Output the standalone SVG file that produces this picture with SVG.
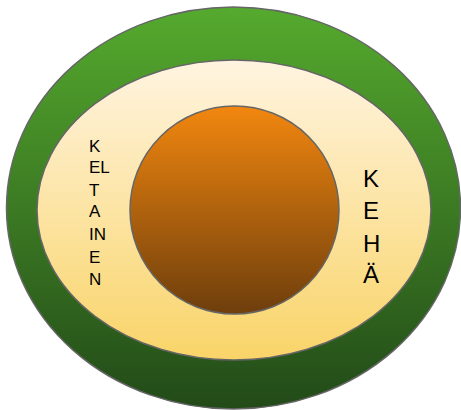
<svg xmlns="http://www.w3.org/2000/svg" width="461" height="410" viewBox="0 0 461 410">
<defs>
<linearGradient id="gOuter" x1="0" y1="0" x2="0" y2="1"><stop offset="0" stop-color="#55aa2e"/><stop offset="1" stop-color="#224a18"/></linearGradient>
<linearGradient id="gMid" x1="0" y1="0" x2="0" y2="1"><stop offset="0" stop-color="#fff4e0"/><stop offset="1" stop-color="#f9d468"/></linearGradient>
<linearGradient id="gInner" x1="0" y1="0" x2="0" y2="1"><stop offset="0" stop-color="#f2870f"/><stop offset="1" stop-color="#6e3e0c"/></linearGradient>
</defs>
<style>
.ring{stroke:#666;stroke-width:1.5}
.t{font-family:"Liberation Sans",Arial,sans-serif;fill:#000}
.s{font-size:17px}
.b{font-size:24px}
</style>
<g id="outer"><ellipse class="ring" cx="233.5" cy="208" rx="227" ry="201" fill="url(#gOuter)"/></g>
<g id="middle"><ellipse class="ring" cx="234" cy="210" rx="197" ry="150" fill="url(#gMid)"/></g>
<g id="inner"><ellipse class="ring" cx="234.5" cy="210" rx="104.5" ry="104" fill="url(#gInner)"/></g>
<g id="label-keltainen" class="t s">
<text x="89" y="152">K</text>
<text x="89" y="173">EL</text>
<text x="89" y="196">T</text>
<text x="89" y="217">A</text>
<text x="89" y="240">IN</text>
<text x="89" y="263">E</text>
<text x="89" y="285">N</text>
</g>
<g id="label-keha" class="t b">
<text x="363" y="187">K</text>
<text x="363" y="219">E</text>
<text x="363" y="252">H</text>
<text x="363" y="283">Ä</text>
</g>
</svg>
